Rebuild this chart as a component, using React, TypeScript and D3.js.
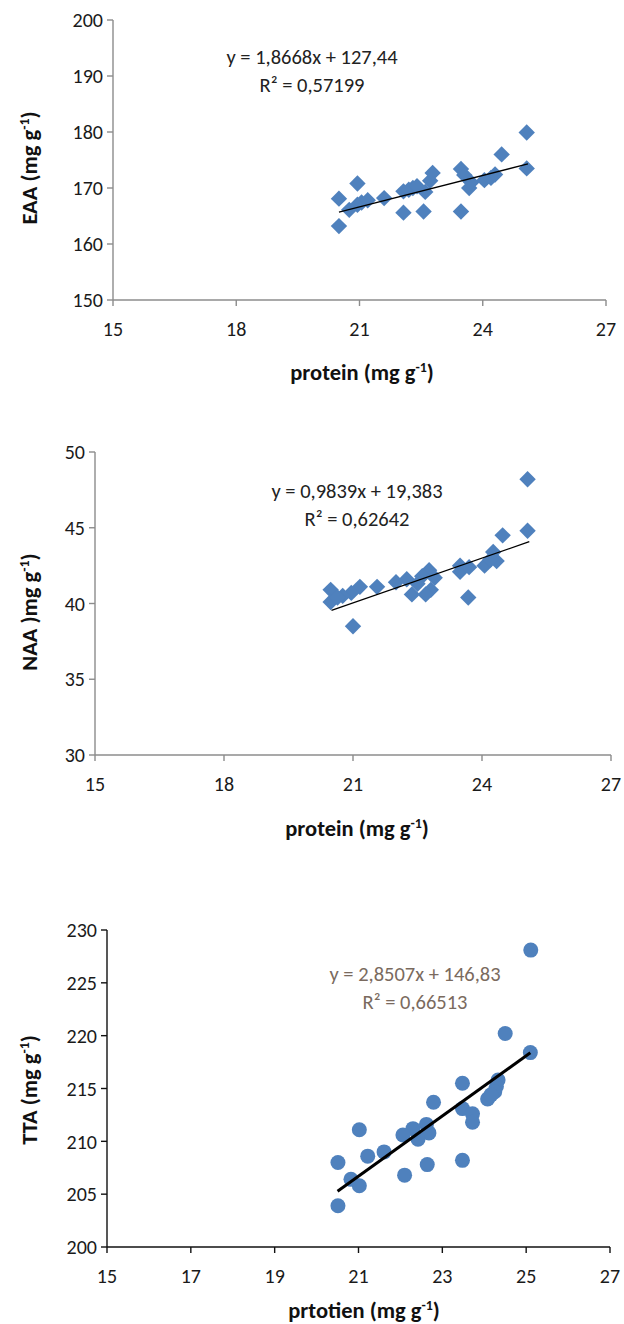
import React from "react";
import * as d3 from "d3";

// ---------- data ----------
const eaaProtein = [20.5, 20.5, 20.95, 20.75, 20.95, 21.05, 21.2, 21.6, 22.07, 22.07, 22.3, 22.2, 22.56, 22.6, 22.72, 22.78, 23.47, 23.47, 23.55, 23.67, 23.72, 24.04, 24.2, 24.3, 24.46, 25.07, 25.07, 22.4];
const eaaValues = [168.1, 163.2, 170.8, 166.1, 167.0, 167.4, 167.8, 168.2, 165.6, 169.4, 170.0, 169.7, 165.8, 169.3, 171.3, 172.7, 173.4, 165.8, 172.3, 170.0, 171.0, 171.4, 171.8, 172.4, 176.0, 179.9, 173.5, 170.3];

const naaProtein = [25.06, 25.06, 24.48, 24.26, 24.34, 24.06, 24.2, 23.49, 23.49, 23.7, 23.68, 22.77, 22.81, 22.69, 22.61, 22.37, 22.25, 22.0, 21.56, 21.16, 21.0, 20.96, 20.76, 20.48, 20.48, 20.64, 22.5, 22.9];
const naaValues = [48.2, 44.8, 44.5, 43.4, 42.8, 42.5, 42.9, 42.5, 42.1, 42.4, 40.4, 42.2, 40.9, 40.6, 41.8, 40.6, 41.6, 41.4, 41.1, 41.1, 38.5, 40.7, 40.5, 40.9, 40.1, 40.4, 41.3, 41.7];

const ttaProtein = [25.11, 24.5, 25.1, 23.48, 24.33, 24.29, 24.25, 24.08, 24.16, 22.79, 23.48, 23.72, 23.72, 22.62, 22.68, 22.3, 22.06, 22.42, 21.02, 21.61, 21.22, 20.51, 20.82, 21.02, 20.51, 22.1, 22.64, 23.48];
const ttaValues = [228.1, 220.2, 218.4, 215.5, 215.8, 215.2, 214.7, 214.0, 214.4, 213.7, 213.1, 212.6, 211.8, 211.6, 210.8, 211.2, 210.6, 210.2, 211.1, 209.0, 208.6, 208.0, 206.4, 205.8, 203.9, 206.8, 207.8, 208.2];

const eaaYTicks = [150, 160, 170, 180, 190, 200];
const eaaXTicks = [15, 18, 21, 24, 27];
const naaYTicks = [30, 35, 40, 45, 50];
const naaXTicks = [15, 18, 21, 24, 27];
const ttaYTicks = [200, 205, 210, 215, 220, 225, 230];
const ttaXTicks = [15, 17, 19, 21, 23, 25, 27];

const eaaFit = { slope: 1.8668, intercept: 127.44, label: "y = 1,8668x + 127,44", r2: "R² = 0,57199" };
const naaFit = { slope: 0.9839, intercept: 19.383, label: "y = 0,9839x + 19,383", r2: "R² = 0,62642" };
const ttaFit = { slope: 2.8507, intercept: 146.83, label: "y = 2,8507x + 146,83", r2: "R² = 0,66513" };
const fitRange = [20.5, 25.1];

const FONT = "Calibri, Carlito, Lato, 'Open Sans', sans-serif";
const BLUE = "#4f81bd";

type PanelProps = {
  xs: number[]; ys: number[];
  xTicks: number[]; yTicks: number[];
  xPx: [number, number]; yPx: [number, number];
  fit: { slope: number; intercept: number; label: string; r2: string };
  eqPos: [number, number];
  eqColor: string;
  axisColor: string;
  marker: "diamond" | "circle";
  lineWidth: number;
  yTitle: string; yTitleY: number;
  xTitle: string; xTitleX: number; xTitleY: number;
};

function Sup({ children }: { children: string }) {
  return (
    <tspan fontSize="0.62em" dy="-0.55em">{children}</tspan>
  );
}

function Panel(p: PanelProps) {
  const x = d3.scaleLinear().domain([p.xTicks[0], p.xTicks[p.xTicks.length - 1]]).range(p.xPx);
  const y = d3.scaleLinear().domain([p.yTicks[0], p.yTicks[p.yTicks.length - 1]]).range(p.yPx);
  const x0 = p.xPx[0];
  const yb = p.yPx[0];
  const r = 8.2;
  const line = d3.line<number>().x((v) => x(v)).y((v) => y(p.fit.slope * v + p.fit.intercept));
  return (
    <g fontFamily={FONT}>
      {/* axes */}
      <line x1={x0} x2={x0} y1={p.yPx[1]} y2={yb} stroke={p.axisColor} strokeWidth={1.4} />
      <line x1={x0} x2={p.xPx[1]} y1={yb} y2={yb} stroke={p.axisColor} strokeWidth={1.4} />
      {p.yTicks.map((t) => (
        <g key={"y" + t}>
          <line x1={x0 - 6} x2={x0} y1={y(t)} y2={y(t)} stroke={p.axisColor} strokeWidth={1.4} />
          <text x={x0 - 10} y={y(t)} dy="0.36em" textAnchor="end" fontSize={20} fill="#1a1a1a">{t}</text>
        </g>
      ))}
      {p.xTicks.map((t) => (
        <g key={"x" + t}>
          <line x1={x(t)} x2={x(t)} y1={yb} y2={yb + 6} stroke={p.axisColor} strokeWidth={1.4} />
          <text x={x(t)} y={yb + 36} textAnchor="middle" fontSize={20} fill="#1a1a1a">{t}</text>
        </g>
      ))}
      {/* points */}
      {p.xs.map((v, i) =>
        p.marker === "diamond" ? (
          <path key={i} transform={`translate(${x(v)},${y(p.ys[i])})`} d={`M0,${-r}L${r},0L0,${r}L${-r},0Z`} fill={BLUE} />
        ) : (
          <circle key={i} cx={x(v)} cy={y(p.ys[i])} r={7.5} fill={BLUE} />
        )
      )}
      {/* trend line */}
      <path d={line(fitRange) || ""} stroke="#000" strokeWidth={p.lineWidth} fill="none" />
      {/* equation */}
      <text x={p.eqPos[0]} y={p.eqPos[1]} textAnchor="middle" fontSize={20.5} fill={p.eqColor}>{p.fit.label}</text>
      <text x={p.eqPos[0]} y={p.eqPos[1] + 28} textAnchor="middle" fontSize={20.5} fill={p.eqColor}>{p.fit.r2}</text>
      {/* titles */}
      <text transform={`translate(37,${p.yTitleY}) rotate(-90)`} textAnchor="middle" fontSize={22.5} fontWeight="bold" fill="#111">
        {p.yTitle}<Sup>-1</Sup><tspan dy="0.34em">)</tspan>
      </text>
      <text x={p.xTitleX} y={p.xTitleY} textAnchor="middle" fontSize={22.5} fontWeight="bold" fill="#111">
        {p.xTitle}<Sup>-1</Sup><tspan dy="0.34em">)</tspan>
      </text>
    </g>
  );
}

export default function App() {
  return (
    <svg width={624} height={1324} style={{ position: "absolute", left: 0, top: 0, background: "#fff" }}>
      <rect width={624} height={1324} fill="#fff" />
      <Panel xs={eaaProtein} ys={eaaValues} xTicks={eaaXTicks} yTicks={eaaYTicks}
        xPx={[113, 606]} yPx={[300, 20]} fit={eaaFit} eqPos={[312, 64]} eqColor="#222"
        axisColor="#8c8c8c" marker="diamond" lineWidth={1.3}
        yTitle="EAA (mg g" yTitleY={168} xTitle="protein (mg g" xTitleX={362} xTitleY={380} />
      <Panel xs={naaProtein} ys={naaValues} xTicks={naaXTicks} yTicks={naaYTicks}
        xPx={[95, 611]} yPx={[755, 452]} fit={naaFit} eqPos={[357, 498]} eqColor="#222"
        axisColor="#8c8c8c" marker="diamond" lineWidth={1.3}
        yTitle="NAA )mg g" yTitleY={612} xTitle="protein (mg g" xTitleX={357} xTitleY={836} />
      <Panel xs={ttaProtein} ys={ttaValues} xTicks={ttaXTicks} yTicks={ttaYTicks}
        xPx={[107, 610]} yPx={[1247, 930]} fit={ttaFit} eqPos={[415, 981]} eqColor="#7a6a5e"
        axisColor="#111" marker="circle" lineWidth={3}
        yTitle="TTA (mg g" yTitleY={1090} xTitle="prtotien (mg g" xTitleX={364} xTitleY={1318} />
    </svg>
  );
}
